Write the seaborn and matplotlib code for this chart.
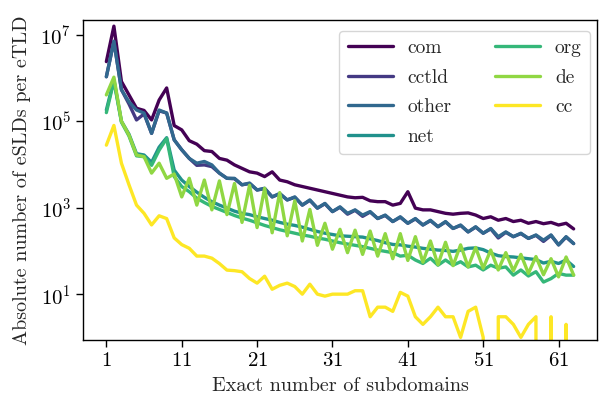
import numpy as np
import pandas as pd
import matplotlib
matplotlib.use("Agg")
import matplotlib.pyplot as plt
from matplotlib.ticker import NullLocator
import seaborn as sns

# ---- data (log10 of absolute number of eSLDs) ----
subdomains = list(range(1, 64))
tlds = ["com", "cctld", "other", "net", "org", "de", "cc"]

com_log10 = [6.38, 7.20, 5.92, 5.61, 5.30, 5.25, 5.03, 5.49, 5.77, 4.90,
             4.80, 4.55, 4.47, 4.32, 4.30, 4.14, 4.10, 3.99, 3.91, 3.83,
             3.80, 3.72, 3.83, 3.64, 3.60, 3.53, 3.49, 3.45, 3.41, 3.37,
             3.33, 3.29, 3.25, 3.23, 3.24, 3.16, 3.14, 3.14, 3.06, 3.10,
             3.37, 2.99, 2.95, 2.95, 2.91, 2.87, 2.85, 2.87, 2.88, 2.83,
             2.75, 2.79, 2.71, 2.75, 2.68, 2.71, 2.64, 2.68, 2.63, 2.66,
             2.60, 2.64, 2.51]
cctld_log10 = [6.03, 6.85, 5.73, 5.40, 5.03, 5.17, 4.72, 5.24, 5.19, 4.57,
               4.34, 4.14, 3.98, 3.99, 3.95, 3.80, 3.68, 3.67, 3.53, 3.56,
               3.41, 3.44, 3.25, 3.32, 3.18, 3.24, 3.06, 3.17, 2.99, 3.09,
               2.91, 3.01, 2.85, 2.94, 2.80, 2.90, 2.75, 2.82, 2.68, 2.78,
               2.64, 2.74, 2.60, 2.70, 2.56, 2.67, 2.52, 2.59, 2.44, 2.55,
               2.41, 2.51, 2.30, 2.43, 2.33, 2.40, 2.29, 2.36, 2.22, 2.36,
               2.14, 2.32, 2.17]
other_log10 = [6.03, 6.85, 5.73, 5.45, 5.26, 5.19, 4.72, 5.26, 5.19, 4.57,
               4.34, 4.14, 4.03, 4.07, 3.99, 3.80, 3.68, 3.68, 3.53, 3.57,
               3.41, 3.45, 3.25, 3.33, 3.18, 3.25, 3.06, 3.18, 2.99, 3.10,
               2.91, 3.02, 2.87, 2.95, 2.83, 2.91, 2.75, 2.83, 2.68, 2.79,
               2.64, 2.75, 2.60, 2.71, 2.56, 2.68, 2.52, 2.60, 2.44, 2.56,
               2.41, 2.52, 2.33, 2.44, 2.33, 2.41, 2.29, 2.37, 2.25, 2.37,
               2.14, 2.33, 2.17]
net_log10 = [5.26, 5.96, 5.00, 4.70, 4.25, 4.22, 4.05, 4.40, 4.62, 3.87,
             3.64, 3.49, 3.36, 3.24, 3.14, 3.06, 2.99, 2.92, 2.87, 2.84,
             2.79, 2.75, 2.71, 2.66, 2.62, 2.59, 2.55, 2.50, 2.45, 2.41,
             2.38, 2.35, 2.34, 2.33, 2.32, 2.28, 2.24, 2.19, 2.15, 2.14,
             2.11, 2.09, 2.06, 2.04, 2.02, 2.01, 1.99, 2.02, 2.06, 2.07,
             2.03, 1.95, 1.89, 1.87, 1.86, 1.84, 1.82, 1.80, 1.72, 1.76,
             1.71, 1.79, 1.64]
org_log10 = [5.20, 5.93, 4.98, 4.66, 4.20, 4.18, 3.98, 4.33, 4.60, 3.72,
             3.49, 3.37, 3.22, 3.12, 3.03, 2.96, 2.89, 2.82, 2.76, 2.71,
             2.65, 2.59, 2.54, 2.49, 2.45, 2.41, 2.37, 2.34, 2.30, 2.27,
             2.23, 2.19, 2.16, 2.13, 2.10, 2.06, 2.02, 1.99, 1.96, 1.88,
             1.90, 1.79, 1.71, 1.83, 1.67, 1.79, 1.67, 1.75, 1.63, 1.67,
             1.56, 1.67, 1.60, 1.63, 1.44, 1.56, 1.42, 1.52, 1.28, 1.36,
             1.48, 1.44, 1.44]
de_log10 = [5.61, 6.02, 5.00, 4.68, 4.22, 4.18, 3.80, 4.03, 3.68, 3.78,
            3.25, 3.68, 3.06, 3.64, 2.95, 3.62, 2.84, 3.56, 2.66, 3.52,
            2.54, 3.45, 2.42, 3.35, 2.35, 3.16, 2.23, 2.96, 2.13, 2.64,
            2.04, 2.50, 1.96, 2.48, 1.92, 2.46, 1.88, 2.40, 1.82, 2.40,
            1.78, 2.33, 1.74, 2.23, 1.68, 2.20, 1.66, 2.14, 1.63, 2.08,
            1.60, 2.02, 1.56, 1.96, 1.54, 1.92, 1.48, 1.87, 1.45, 1.82,
            1.40, 1.86, 1.44]
cc_counts = [28000, 80000, 10700, 3400, 1150, 740, 400, 650, 560, 200,
             140, 115, 76, 76, 68, 51, 36, 35, 33, 23,
             18, 26, 13, 16, 18, 15, 10, 17, 10, 9,
             10, 10, 10, 12, 12, 3, 5, 5, 4, 11,
             9, 3, 2, 3, 5, 3, 3, 1, 4, 5,
             1, 0, 3, 3, 2, 1, 2, 3, 0, 3,
             0, 2, 0]

series = {
    "com": 10 ** np.array(com_log10),
    "cctld": 10 ** np.array(cctld_log10),
    "other": 10 ** np.array(other_log10),
    "net": 10 ** np.array(net_log10),
    "org": 10 ** np.array(org_log10),
    "de": 10 ** np.array(de_log10),
    "cc": np.array(cc_counts, dtype=float),
}
rows = []
for t in tlds:
    for xv, yv in zip(subdomains, series[t]):
        rows.append({"subdomains": xv, "count": yv, "tld": t})
df = pd.DataFrame(rows)

# ---- style ----
sns.set_theme(style="ticks")
plt.rcParams.update({
    "font.family": "serif",
    "font.serif": ["cmr10"],
    "mathtext.fontset": "cm",
    "axes.formatter.use_mathtext": True,
    "axes.unicode_minus": False,
})

fig = plt.figure(figsize=(6.01, 4.03), dpi=100)
ax = fig.add_axes([83 / 601, 1 - 340 / 403, (597 - 83) / 601, 320 / 403])

cmap = plt.get_cmap("viridis")
palette = [cmap(v) for v in np.linspace(0, 1, len(tlds))]
sns.lineplot(data=df, x="subdomains", y="count", hue="tld", hue_order=tlds,
             palette=palette, linewidth=2.4, estimator=None, sort=True, ax=ax)
ax.set_yscale("log")
ax.set_ylim(0.87, 2.2e7)
ax.set_xlim(-2.1, 66.1)

ax.set_yticks([1e1, 1e3, 1e5, 1e7])
ax.yaxis.set_minor_locator(NullLocator())
ax.set_xticks([1, 11, 21, 31, 41, 51, 61])

ax.set_xlabel("Exact number of subdomains", fontsize=14.5, labelpad=5)
ax.set_ylabel("Absolute number of eSLDs per eTLD", fontsize=14.5, labelpad=7)
ax.tick_params(axis="both", labelsize=15, length=5, width=1, colors="black")
for s in ax.spines.values():
    s.set_visible(True)
    s.set_color("black")
    s.set_linewidth(1.0)

handles, labels = ax.get_legend_handles_labels()
leg = ax.legend(handles, labels, ncol=2, loc="upper right", fontsize=14,
                frameon=True, fancybox=True, edgecolor="0.8",
                handlelength=2.35, handletextpad=0.75, columnspacing=2.2,
                labelspacing=0.6, borderpad=0.42, borderaxespad=0,
                bbox_to_anchor=(0.986, 0.966))
for h in leg.get_lines():
    h.set_linewidth(2.4)

fig.savefig("out.png", dpi=100)
